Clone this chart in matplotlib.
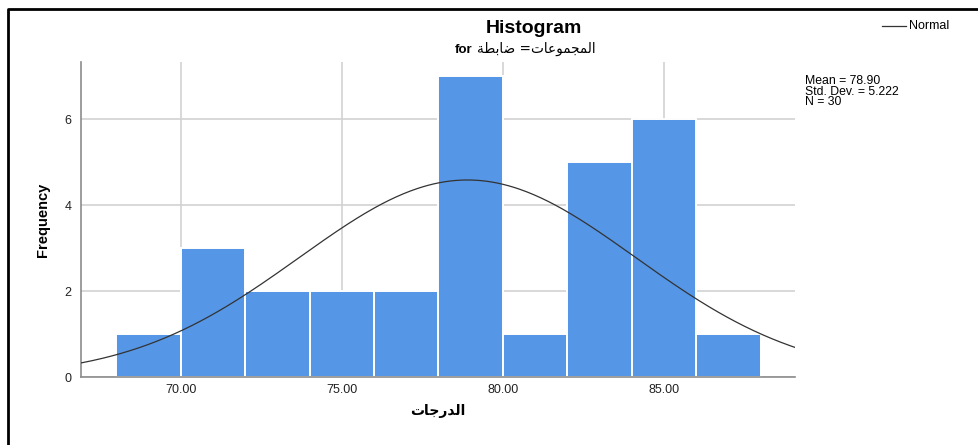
import numpy as np
import matplotlib.pyplot as plt
from matplotlib.lines import Line2D

# --- data ---
bin_left = [68, 70, 72, 74, 76, 78, 80, 82, 84, 86]
counts = [1, 3, 2, 2, 2, 7, 1, 5, 6, 1]
bin_width = 2
mean = 78.90
std_dev = 5.222
n = 30
x_ticks = [70, 75, 80, 85]
x_tick_labels = ["70.00", "75.00", "80.00", "85.00"]
y_ticks = [0, 2, 4, 6]

# arabic strings in presentation forms (visual order, matplotlib has no shaping)
xlabel_ar = "\uFE95\uFE8E\uFE9F\uFEAD\uFEAA\uFEDF\uFE8D"            # الدرجات
group_ar = "\uFE95\uFE8E\uFECB\uFEEE\uFEE4\uFEA0\uFEE4\uFEDF\uFE8D"  # المجموعات
value_ar = "\uFE94\uFEC4\uFE91\uFE8E\uFEBF"                          # ضابطة

FONT = ["Liberation Sans", "DejaVu Sans"]
BAR_COLOR = "#5596e6"
GRID_COLOR = "#d2d2d2"
SPINE_COLOR = "#8c8c8c"

fig = plt.figure(figsize=(9.79, 4.45), dpi=100)
ax = fig.add_axes([0.0827, 0.1528, 0.7294, 0.708])

ax.bar(bin_left, counts, width=bin_width, align="edge", color=BAR_COLOR,
       edgecolor="white", linewidth=1.4, zorder=2)

# normal curve scaled to counts
xs = np.linspace(66.9, 89.07, 400)
ys = n * bin_width / (std_dev * np.sqrt(2 * np.pi)) * np.exp(-0.5 * ((xs - mean) / std_dev) ** 2)
ax.plot(xs, ys, color="#333333", linewidth=0.9, zorder=3)

ax.set_xlim(66.9, 89.07)
ax.set_ylim(0, 7.33)
ax.set_xticks(x_ticks)
ax.set_xticklabels(x_tick_labels)
ax.set_yticks(y_ticks)
ax.tick_params(length=0, labelsize=9, colors="#222222")
ax.tick_params(axis="x", pad=5)
ax.tick_params(axis="y", pad=7)
for lbl in ax.get_xticklabels() + ax.get_yticklabels():
    lbl.set_family(FONT)

ax.grid(True, color=GRID_COLOR, linewidth=1.2, zorder=0)
ax.set_axisbelow(True)
for side in ["top", "right"]:
    ax.spines[side].set_visible(False)
for side in ["left", "bottom"]:
    ax.spines[side].set_color(SPINE_COLOR)
    ax.spines[side].set_linewidth(1.2)

ax.set_ylabel("Frequency", family=["Liberation Sans Narrow", "Liberation Sans"],
              fontweight="bold", fontsize=10.5, labelpad=10)
ax.set_xlabel(xlabel_ar, family=["DejaVu Sans"], fontweight="bold",
              fontsize=10, labelpad=6)

# titles
fig.text(0.5455, 0.935, "Histogram", family=FONT, fontweight="bold",
         fontsize=14, ha="center", va="center")
fig.text(0.482, 0.887, "for", family=FONT, fontweight="bold",
         fontsize=9.5, ha="right", va="center")
fig.text(0.487, 0.889, value_ar + " =" + group_ar, family=["DejaVu Sans"],
         fontsize=9.8, ha="left", va="center")

# legend entry
fig.add_artist(Line2D([0.901, 0.925], [0.942, 0.942], transform=fig.transFigure,
                      color="#333333", linewidth=0.9))
fig.text(0.928, 0.942, "Normal", family=FONT, fontsize=9, ha="left", va="center")

# summary statistics
fig.text(0.822, 0.794, f"Mean = {mean:.2f}\nStd. Dev. = {std_dev:.3f}\nN = {n}",
         family=FONT, fontsize=8.8, ha="left", va="center", linespacing=0.85)

# page frame
fig.add_artist(Line2D([0.0085, 0.0085, 1.0], [0.0, 0.98, 0.98], transform=fig.transFigure,
                      color="black", linewidth=2))

fig.savefig("out.png", dpi=100)
